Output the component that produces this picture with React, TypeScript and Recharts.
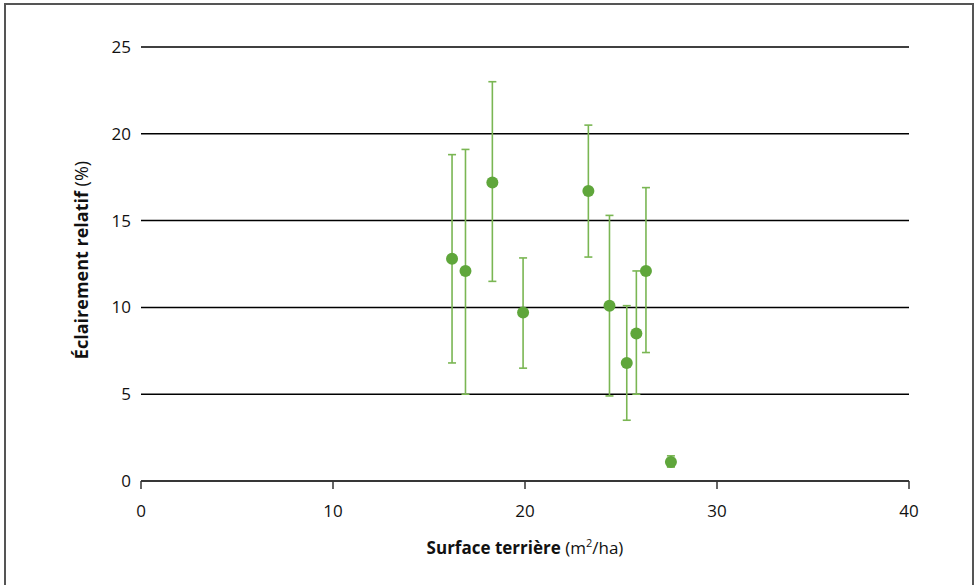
import React from "react";
import {
  ScatterChart,
  Scatter,
  XAxis,
  YAxis,
  CartesianGrid,
  ErrorBar,
} from "recharts";

const surfaceTerriere = [16.2, 16.9, 18.3, 19.9, 23.3, 24.4, 25.3, 25.8, 26.3, 27.6];
const eclairement = [12.8, 12.1, 17.2, 9.7, 16.7, 10.1, 6.8, 8.5, 12.1, 1.1];
const borneBasse = [6.8, 5.0, 11.5, 6.5, 12.9, 4.9, 3.5, 5.0, 7.4, 0.8];
const borneHaute = [18.8, 19.1, 23.0, 12.85, 20.5, 15.3, 10.1, 12.1, 16.9, 1.45];
const xTicks = [0, 10, 20, 30, 40];
const yTicks = [0, 5, 10, 15, 20, 25];

const data = surfaceTerriere.map((x, i) => ({
  x,
  y: eclairement[i],
  err: [eclairement[i] - borneBasse[i], borneHaute[i] - eclairement[i]],
}));

const FONT = "'Open Sans', sans-serif";

const Dot = (props: any) => {
  const { cx, cy } = props;
  return <circle cx={cx} cy={cy} r={6} fill="#5fa63b" />;
};

const XTitle = (props: any) => {
  const vb = props.viewBox;
  return (
    <text
      x={vb.x + vb.width / 2}
      y={549}
      textAnchor="middle"
      dominantBaseline="middle"
      fontFamily={FONT}
      fontSize={17}
      fill="#111"
    >
      <tspan fontWeight="bold">Surface terrière </tspan>
      <tspan>(m</tspan>
      <tspan fontSize={11} dy={-5}>2</tspan>
      <tspan dy={5}>/ha)</tspan>
    </text>
  );
};

const YTitle = () => {
  const cx = 83;
  const cy = 260;
  return (
    <text
      x={cx}
      y={cy}
      textAnchor="middle"
      dominantBaseline="middle"
      transform={`rotate(-90, ${cx}, ${cy})`}
      fontFamily={FONT}
      fontSize={18}
      fill="#111"
    >
      <tspan fontWeight="bold">Éclairement relatif </tspan>
      <tspan>(%)</tspan>
    </text>
  );
};

export default function App() {
  return (
    <div style={{ position: "absolute", left: 0, top: 0, width: 976, height: 585, background: "#fff" }}>
      <div
        style={{
          position: "absolute",
          left: 4,
          top: 3,
          width: 966,
          height: 590,
          borderLeft: "2px solid #555",
          borderTop: "2px solid #555",
          borderRight: "2px solid #555",
          pointerEvents: "none",
        }}
      />
      <ScatterChart
        width={976}
        height={585}
        margin={{ top: 47, right: 67, bottom: 74, left: 81 }}
      >
        <CartesianGrid horizontal vertical={false} stroke="#000" strokeWidth={1.5} />
        <XAxis
          type="number"
          dataKey="x"
          domain={[0, 40]}
          ticks={xTicks}
          height={30}
          tickSize={8}
          tickMargin={16}
          axisLine={{ stroke: "#333", strokeWidth: 1.5 }}
          tickLine={{ stroke: "#333", strokeWidth: 1.5 }}
          tick={{ fontFamily: FONT, fontSize: 17, fill: "#111" }}
          label={<XTitle />}
        />
        <YAxis
          type="number"
          dataKey="y"
          domain={[0, 25]}
          ticks={yTicks}
          width={60}
          tickSize={0}
          tickMargin={10}
          axisLine={false}
          tickLine={false}
          tick={{ fontFamily: FONT, fontSize: 17, fill: "#111" }}
          label={<YTitle />}
        />
        <Scatter data={data} shape={<Dot />} isAnimationActive={false}>
          <ErrorBar
            dataKey="err"
            direction="y"
            width={4}
            stroke="#7ab653"
            strokeWidth={1.6}
          />
        </Scatter>
      </ScatterChart>
    </div>
  );
}
